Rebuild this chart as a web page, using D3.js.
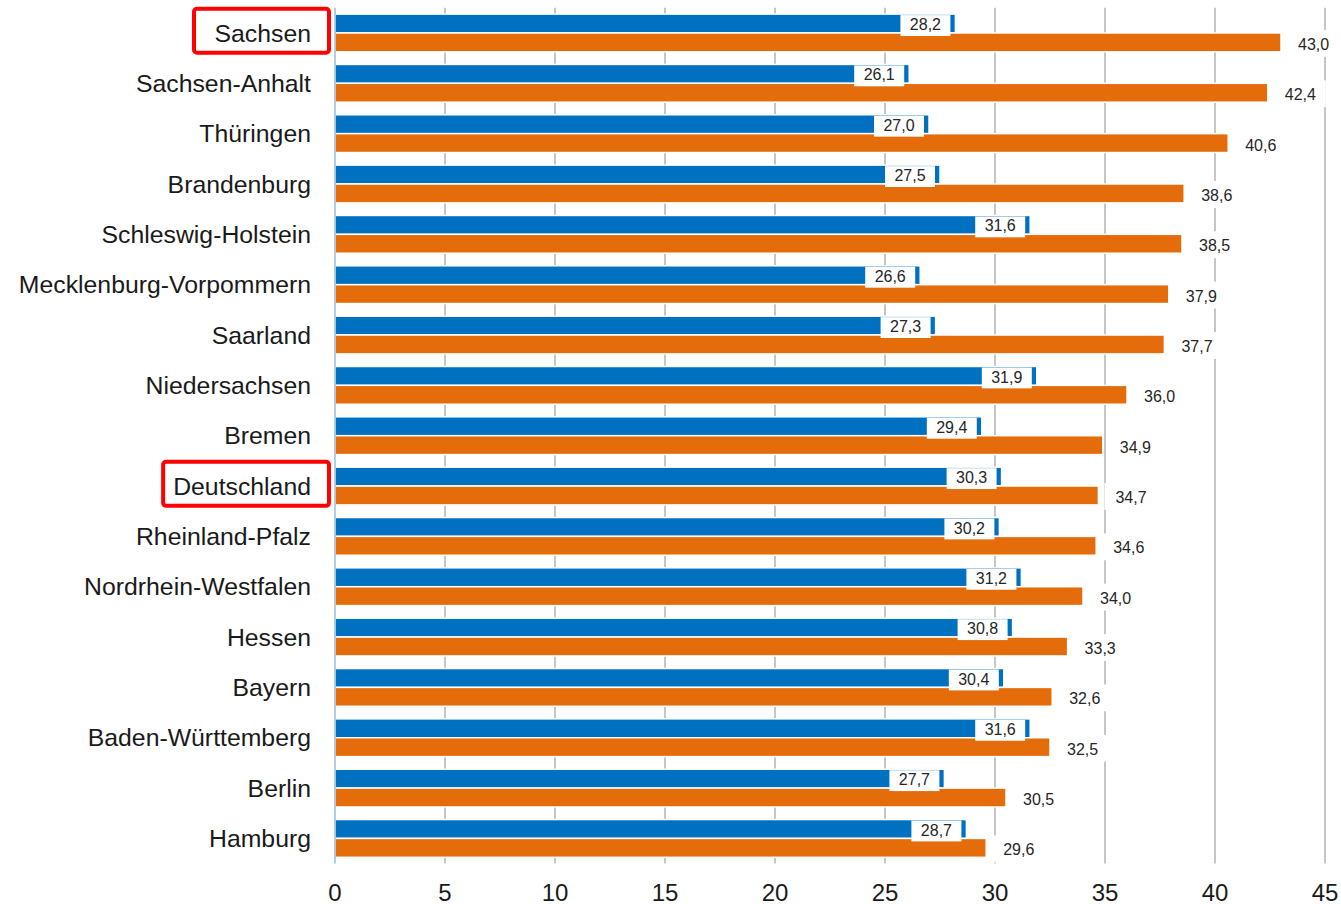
<!DOCTYPE html>
<html>
<head>
<meta charset="utf-8">
<script src="https://cdn.jsdelivr.net/npm/d3@7"></script>
<style>
  body { margin: 0; background: #fff; }
  svg { display: block; font-family: "Liberation Sans", Arial, sans-serif; }
</style>
</head>
<body>
<svg width="1341" height="904"></svg>
<script>
// Bundesländer, top to bottom
var laender = ["Sachsen", "Sachsen-Anhalt", "Thüringen", "Brandenburg", "Schleswig-Holstein",
  "Mecklenburg-Vorpommern", "Saarland", "Niedersachsen", "Bremen", "Deutschland",
  "Rheinland-Pfalz", "Nordrhein-Westfalen", "Hessen", "Bayern", "Baden-Württemberg",
  "Berlin", "Hamburg"];
// blue series (upper bar)
var blauWerte = [28.2, 26.1, 27.0, 27.5, 31.6, 26.6, 27.3, 31.9, 29.4, 30.3, 30.2, 31.2, 30.8, 30.4, 31.6, 27.7, 28.7];
// orange series (lower bar)
var orangeWerte = [43.0, 42.4, 40.6, 38.6, 38.5, 37.9, 37.7, 36.0, 34.9, 34.7, 34.6, 34.0, 33.3, 32.6, 32.5, 30.5, 29.6];
var xTicks = [0, 5, 10, 15, 20, 25, 30, 35, 40, 45];
var markiert = ["Sachsen", "Deutschland"];

var serien = ["blau", "orange"];
var farben = { blau: "#0070c0", orange: "#e46c0a" };

var data = laender.map(function(name, i) {
  return { name: name, blau: blauWerte[i], orange: orangeWerte[i] };
});

var svg = d3.select("svg");
// note: "top" is taken by window.top, so plotTop/plotBottom
var plotLeft = 335, plotRight = 1325, plotTop = 7.8, plotBottom = 863.6;

var x = d3.scaleLinear().domain([0, 45]).range([plotLeft, plotRight]);
var y = d3.scaleBand().domain(laender).range([plotTop, plotBottom])
          .paddingInner(0.25).paddingOuter(0.125);
var y1 = d3.scaleBand().domain(serien).range([0, y.bandwidth()]);

var fmt = function(v) { return d3.format(".1f")(v).replace(".", ","); };

// vertical gridlines (behind bars)
svg.append("g").selectAll("line")
  .data(xTicks.slice(1))
  .join("line")
  .attr("x1", function(d) { return x(d); })
  .attr("x2", function(d) { return x(d); })
  .attr("y1", plotTop)
  .attr("y2", plotBottom)
  .attr("stroke", "#a0a0a0")
  .attr("stroke-width", 1.2);

// bars
var groups = svg.append("g").selectAll("g")
  .data(data)
  .join("g")
  .attr("transform", function(d) { return "translate(0," + y(d.name) + ")"; });

groups.selectAll("rect")
  .data(function(d) { return serien.map(function(s) { return { key: s, value: d[s] }; }); })
  .join("rect")
  .attr("x", x(0))
  .attr("y", function(d) { return y1(d.key); })
  .attr("width", function(d) { return x(d.value) - x(0); })
  .attr("height", y1.bandwidth())
  .attr("fill", function(d) { return farben[d.key]; })
  .attr("stroke", "#fff")
  .attr("stroke-width", 1.5);

// blue labels: white box sitting over the bar end
groups.append("rect")
  .attr("x", function(d) { return x(d.blau) - 55; })
  .attr("y", y1("blau") + 1)
  .attr("width", 50)
  .attr("height", y1.bandwidth() + 2)
  .attr("fill", "#fff");
groups.append("text")
  .attr("x", function(d) { return x(d.blau) - 30; })
  .attr("y", y1("blau") + y1.bandwidth() / 2 + 1)
  .attr("dy", "0.35em")
  .attr("text-anchor", "middle")
  .attr("font-size", 16)
  .attr("fill", "#262626")
  .text(function(d) { return fmt(d.blau); });

// orange labels: right of the bar end
groups.append("rect")
  .attr("x", function(d) { return x(d.orange) + 6; })
  .attr("y", y1("orange") - 3)
  .attr("width", 52)
  .attr("height", y1.bandwidth() + 8)
  .attr("fill", "#fff");
groups.append("text")
  .attr("x", function(d) { return x(d.orange) + 17; })
  .attr("y", y1("orange") + y1.bandwidth() / 2 + 2)
  .attr("dy", "0.35em")
  .attr("font-size", 16)
  .attr("fill", "#262626")
  .text(function(d) { return fmt(d.orange); });

// left axis line
svg.append("line")
  .attr("x1", x(0)).attr("x2", x(0))
  .attr("y1", plotTop).attr("y2", plotBottom)
  .attr("stroke", "#9dbbdc")
  .attr("stroke-width", 1.5);

// category labels
svg.append("g").selectAll("text")
  .data(laender)
  .join("text")
  .attr("class", "cat")
  .attr("x", 311)
  .attr("y", function(d) { return y(d) + y.bandwidth() / 2; })
  .attr("dy", "0.35em")
  .attr("text-anchor", "end")
  .attr("font-size", 24.8)
  .attr("fill", "#1a1a1a")
  .text(function(d) { return d; });

// x tick labels
svg.append("g").selectAll("text")
  .data(xTicks)
  .join("text")
  .attr("x", function(d) { return x(d); })
  .attr("y", 893)
  .attr("dy", "0.35em")
  .attr("text-anchor", "middle")
  .attr("font-size", 24)
  .attr("fill", "#1a1a1a")
  .text(function(d) { return d; });

// red highlight boxes round Sachsen and Deutschland
var padLinks = { "Sachsen": 20.5, "Deutschland": 10 };
svg.selectAll("text.cat")
  .filter(function(d) { return markiert.indexOf(d) >= 0; })
  .each(function(d) {
    var bb = this.getBBox();
    var cy = y(d) + y.bandwidth() / 2 - 2.2;
    var bx = bb.x - padLinks[d];
    svg.append("rect")
      .attr("x", bx)
      .attr("y", cy - 22)
      .attr("width", 329 - bx)
      .attr("height", 44)
      .attr("rx", 3)
      .attr("fill", "none")
      .attr("stroke", "#ff0000")
      .attr("stroke-width", 4);
  });
</script>
</body>
</html>
